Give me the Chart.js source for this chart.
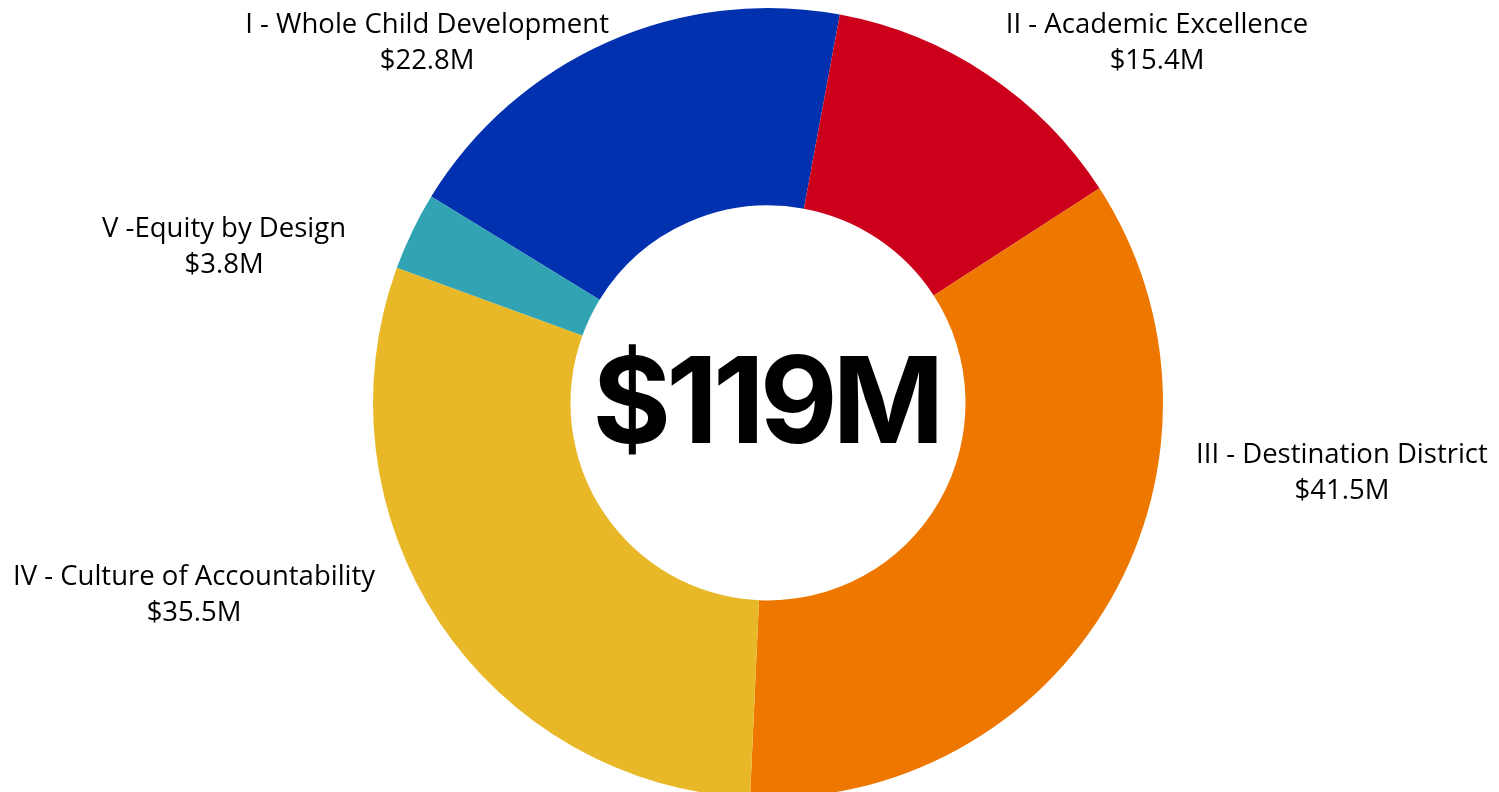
<!DOCTYPE html>
<html>
<head>
<meta charset="utf-8">
<script src="https://cdn.jsdelivr.net/npm/chart.js@4.4.1/dist/chart.umd.min.js"></script>
<style>
  html, body { margin: 0; padding: 0; background: #fff; overflow: hidden; }
  #wrap { width: 1499px; height: 798px; }
</style>
</head>
<body>
<div id="wrap"><canvas id="pillarChart"></canvas></div>
<script>
const pillars = [
  "I - Whole Child Development",
  "II - Academic Excellence",
  "III - Destination District",
  "IV - Culture of Accountability",
  "V -Equity by Design",
];
const budgets = [22.8, 15.4, 41.5, 35.5, 3.8]; // millions of dollars
const sliceColors = ["#0231B0", "#CC001A", "#EE7700", "#E8B828", "#31A3B3"];

// where each caption sits, relative to the doughnut centre, in outer radii
const captionOffsets = [
  [-0.863, -0.937],
  [0.985, -0.937],
  [1.453, 0.152],
  [-1.453, 0.461],
  [-1.377, -0.42],
];

const money = (v) => "$" + v.toFixed(1) + "M";

const captions = {
  id: "captions",
  afterDraw(chart) {
    const ctx = chart.ctx;
    const arc = chart.getDatasetMeta(0).data[0];
    const cx = arc.x, cy = arc.y, r = arc.outerRadius;

    ctx.save();
    ctx.fillStyle = "#000";
    ctx.textAlign = "center";
    ctx.textBaseline = "alphabetic";

    ctx.font = "27.5px 'Open Sans', sans-serif";
    pillars.forEach((name, i) => {
      const x = cx + captionOffsets[i][0] * r;
      const y = cy + captionOffsets[i][1] * r;
      ctx.fillText(name, x, y);
      ctx.fillText(money(budgets[i]), x, y + 36);
    });

    // grand total in the hole
    const total = budgets.reduce((a, b) => a + b, 0);
    ctx.font = "bold 120px Inter, sans-serif";
    ctx.letterSpacing = "-5px";
    ctx.fillText("$" + Math.round(total) + "M", cx - 2, cy + 40);
    ctx.restore();
  },
};

new Chart(document.getElementById("pillarChart"), {
  type: "doughnut",
  data: {
    labels: pillars,
    datasets: [
      {
        data: budgets,
        backgroundColor: sliceColors,
        borderWidth: 0,
      },
    ],
  },
  options: {
    responsive: true,
    maintainAspectRatio: false,
    animation: false,
    cutout: "50%",
    rotation: -58.5,
    layout: { padding: { left: 37, top: 8 } },
    plugins: {
      legend: { display: false },
      tooltip: { enabled: false },
    },
  },
  plugins: [captions],
});
</script>
</body>
</html>
